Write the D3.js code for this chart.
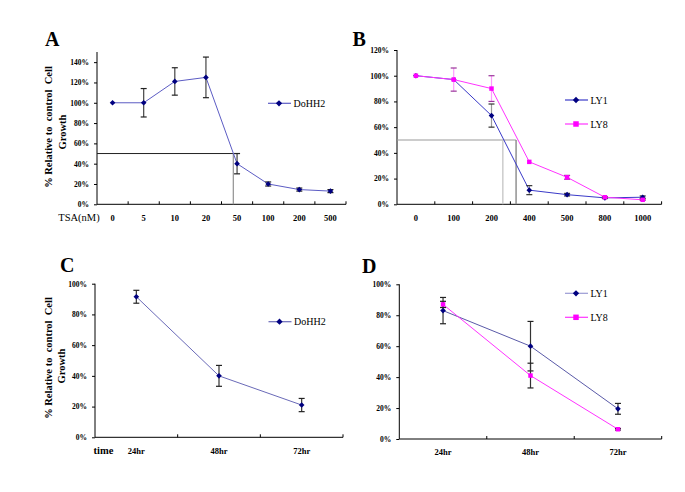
<!DOCTYPE html>
<html>
<head>
<meta charset="utf-8">
<script src="https://cdn.jsdelivr.net/npm/d3@7"></script>
<style>
  html, body { margin: 0; padding: 0; background: #fff; }
  svg { display: block; }
</style>
</head>
<body>
<svg id="chart" width="685" height="492"></svg>
<script>
// ---------------- DATA ----------------
const catsA = ["0", "5", "10", "20", "50", "100", "200", "500"];
const doh2A = [100, 100, 121, 125, 40, 20, 14.5, 13];
const doh2AErr = [0, 14, 13.5, 20, 10, 2, 1.5, 1.5];
const ic50A = [3.88];

const catsB = ["0", "100", "200", "400", "500", "800", "1000"];
const ly1B = [100, 97, 69, 11, 7.5, 5, 5.5];
const ly1BErr = [0, 0, 9, 3.5, 1, 0.5, 1];
const ly8B = [100, 97, 90, 33, 21, 5.5, 3.5];
const ly8BErr = [0, 9, 10, 0, 1.5, 0.5, 0.5];
const ic50B = [2.30, 2.65];

const catsC = ["24hr", "48hr", "72hr"];
const doh2C = [91.5, 40, 21];
const doh2CErr = [4.2, 6.8, 4.3];

const catsD = ["24hr", "48hr", "72hr"];
const ly1D = [83, 60, 19.5];
const ly1DErr = [8.5, 16, 3.5];
const ly8D = [87, 41, 6.3];
const ly8DErr = [2, 8, 0.5];

const yTicksA = [0, 20, 40, 60, 80, 100, 120, 140];
const yTicksB = [0, 20, 40, 60, 80, 100, 120];
const yTicksCD = [0, 20, 40, 60, 80, 100];

// ---------------- DRAWING ----------------
const FONT = "'Liberation Serif', 'Times New Roman', 'DejaVu Serif', serif";
const svg = d3.select("#chart");
const NAVY = "#000080", MAG = "#ff00ff";

const diamond = {
  draw(ctx, size) {
    const r = Math.sqrt(size / 2);
    ctx.moveTo(0, -r); ctx.lineTo(r, 0); ctx.lineTo(0, r); ctx.lineTo(-r, 0); ctx.closePath();
  }
};

function txt(sel) { return sel.style("font-family", FONT).attr("fill", "#000"); }

function panel(cfg) {
  const g = svg.append("g");
  const x = d3.scaleBand().domain(cfg.cats).range([cfg.x0, cfg.x1]).padding(0);
  const y = d3.scaleLinear().domain([0, cfg.yMax]).range([cfg.y0, cfg.yTop]);
  const cx = (i) => cfg.x0 + (i + 0.5) * x.bandwidth();

  // y axis
  const yAxis = d3.axisLeft(y).tickValues(cfg.yTicks).tickSize(3).tickPadding(5)
    .tickFormat(d => d + "%");
  const ya = g.append("g").attr("transform", `translate(${cfg.x0},0)`).call(yAxis);
  ya.attr("font-family", null);
  ya.select(".domain").attr("stroke", "#000").attr("d", `M0,${cfg.y0}V${cfg.yTop}`);
  ya.selectAll(".tick line").attr("stroke", "#000");
  txt(ya.selectAll("text")).style("font-size", "7.5px").style("font-weight", "bold");

  // x axis line
  g.append("line").attr("x1", cfg.x0).attr("x2", cfg.x1)
    .attr("y1", cfg.y0).attr("y2", cfg.y0).attr("stroke", "#000");
  const bounds = d3.range(1, cfg.cats.length + 1).map(i => cfg.x0 + i * x.bandwidth());
  g.selectAll(".xt").data(bounds).join("line")
    .attr("x1", d => d).attr("x2", d => d)
    .attr("y1", cfg.y0).attr("y2", cfg.y0 - 3).attr("stroke", "#000");
  txt(g.selectAll(".xl").data(cfg.cats).join("text")
    .attr("x", d => x(d) + x.bandwidth() / 2).attr("y", cfg.y0 + 13.5)
    .attr("dy", "0.35em").attr("text-anchor", "middle"))
    .style("font-size", "8.5px").style("font-weight", "bold").text(d => d);

  // reference (IC50) lines
  if (cfg.ic50) {
    const xs = cfg.ic50.map(cx);
    const xmax = d3.max(xs);
    g.append("line").attr("x1", cfg.x0).attr("x2", xmax)
      .attr("y1", y(50)).attr("y2", y(50)).attr("stroke", cfg.hColor).attr("stroke-width", 1);
    g.selectAll(".vl").data(xs).join("line")
      .attr("x1", d => d).attr("x2", d => d).attr("y1", y(50)).attr("y2", cfg.y0)
      .attr("stroke", (d, i) => cfg.vColors[i]).attr("stroke-width", 1.3);
  }

  // series
  cfg.series.forEach(s => {
    const pts = s.values.map((v, i) => ({ i, v, e: s.err[i] }));
    g.append("path").datum(pts)
      .attr("d", d3.line().x(d => cx(d.i)).y(d => y(d.v)))
      .attr("fill", "none").attr("stroke", s.line).attr("stroke-width", 1);
    pts.filter(d => d.e > 0).forEach(d => {
      const xx = cx(d.i);
      g.append("line").attr("x1", xx).attr("x2", xx)
        .attr("y1", y(d.v - d.e)).attr("y2", y(d.v + d.e))
        .attr("stroke", s.errStem).attr("stroke-width", 1.2);
      [d.v - d.e, d.v + d.e].forEach(vv => {
        g.append("line").attr("x1", xx - 3).attr("x2", xx + 3)
          .attr("y1", y(vv)).attr("y2", y(vv))
          .attr("stroke", s.errCap).attr("stroke-width", 1.2);
      });
    });
    const isSq = s.shape === "square";
    const sym = d3.symbol().type(isSq ? d3.symbolSquare : diamond).size(isSq ? 20 : 16);
    g.selectAll(null).data(pts).join("path")
      .attr("transform", d => `translate(${cx(d.i)},${y(d.v)})`)
      .attr("d", sym).attr("fill", s.marker);
  });

  // legend
  cfg.series.forEach((s, k) => {
    const ly = cfg.legY + k * cfg.legDy;
    g.append("line").attr("x1", cfg.legX).attr("x2", cfg.legX + 23)
      .attr("y1", ly).attr("y2", ly).attr("stroke", s.legLine || s.line).attr("stroke-width", 1.2);
    const isSq = s.shape === "square";
    const sym = d3.symbol().type(isSq ? d3.symbolSquare : diamond).size(isSq ? 30 : 20);
    g.append("path").attr("transform", `translate(${cfg.legX + 11},${ly})`)
      .attr("d", sym).attr("fill", s.marker);
    txt(g.append("text").attr("x", cfg.legX + 25.5).attr("y", ly).attr("dy", "0.35em"))
      .style("font-size", "10px").text(s.name);
  });

  // panel letter
  txt(g.append("text").attr("x", cfg.letterX).attr("y", cfg.letterY))
    .style("font-size", "20px").style("font-weight", "bold").text(cfg.letter);

  // y title
  if (cfg.yTitle) {
    const yt = cfg.yTitle;
    txt(g.append("text").attr("transform", `translate(${yt.x1},${yt.cy1}) rotate(-90)`)
      .attr("dy", "0.35em").attr("text-anchor", "middle"))
      .style("font-size", "10.5px").style("font-weight", "bold")
      .style("white-space", "pre")
      .text("% Relative to  control  Cell");
    txt(g.append("text").attr("transform", `translate(${yt.x2},${yt.cy2}) rotate(-90)`)
      .attr("dy", "0.35em").attr("text-anchor", "middle"))
      .style("font-size", "10.5px").style("font-weight", "bold").text("Growth");
  }
  if (cfg.xTitle) {
    txt(g.append("text").attr("x", cfg.xTitle.x).attr("y", cfg.y0 + 13)
      .attr("dy", "0.35em").attr("text-anchor", "middle"))
      .style("font-size", "10.5px").style("font-weight", cfg.xTitle.bold ? "bold" : "normal")
      .text(cfg.xTitle.text);
  }
}

panel({
  cats: catsA, x0: 97, x1: 346, y0: 204.3, yTop: 52, yMax: 150, yTicks: yTicksA,
  ic50: ic50A, hColor: "#222", vColors: ["#999"],
  series: [{ name: "DoHH2", values: doh2A, err: doh2AErr, shape: "diamond",
    line: "#5c5cc4", marker: NAVY, errStem: "#444", errCap: "#222" }],
  legX: 268, legY: 103.3, legDy: 0,
  letter: "A", letterX: 45, letterY: 46,
  yTitle: { x1: 48, cy1: 127, x2: 62, cy2: 132 },
  xTitle: { text: "TSA(nM)", x: 79, bold: false }
});

panel({
  cats: catsB, x0: 397, x1: 661.6, y0: 204.3, yTop: 50, yMax: 120, yTicks: yTicksB,
  ic50: ic50B, hColor: "#999", vColors: ["#c4c4c4", "#808080"],
  series: [
    { name: "LY1", values: ly1B, err: ly1BErr, shape: "diamond",
      line: "#3a3ac8", marker: NAVY, errStem: "#999", errCap: "#333" },
    { name: "LY8", values: ly8B, err: ly8BErr, shape: "square",
      line: "#ff33ff", marker: MAG, errStem: "#ff99ff", errCap: "#993399" }
  ],
  legX: 565, legY: 100, legDy: 24,
  letter: "B", letterX: 352.5, letterY: 46
});

panel({
  cats: catsC, x0: 95, x1: 343, y0: 437.3, yTop: 283.7, yMax: 100, yTicks: yTicksCD,
  series: [{ name: "DoHH2", values: doh2C, err: doh2CErr, shape: "diamond",
    line: "#6a6ab8", marker: NAVY, errStem: "#333", errCap: "#222" }],
  legX: 268.5, legY: 321.7, legDy: 0,
  letter: "C", letterX: 60, letterY: 272,
  yTitle: { x1: 48, cy1: 358, x2: 61.5, cy2: 366 },
  xTitle: { text: "time", x: 103.5, bold: true }
});

panel({
  cats: catsD, x0: 399.3, x1: 661.7, y0: 439, yTop: 284.3, yMax: 100, yTicks: yTicksCD,
  series: [
    { name: "LY1", values: ly1D, err: ly1DErr, shape: "diamond",
      line: "#5a5aa8", legLine: "#9a9ad4", marker: NAVY, errStem: "#333", errCap: "#222" },
    { name: "LY8", values: ly8D, err: ly8DErr, shape: "square",
      line: "#ff33ff", marker: MAG, errStem: "#333", errCap: "#222" }
  ],
  legX: 565, legY: 293.3, legDy: 24,
  letter: "D", letterX: 362, letterY: 273
});
</script>
</body>
</html>
